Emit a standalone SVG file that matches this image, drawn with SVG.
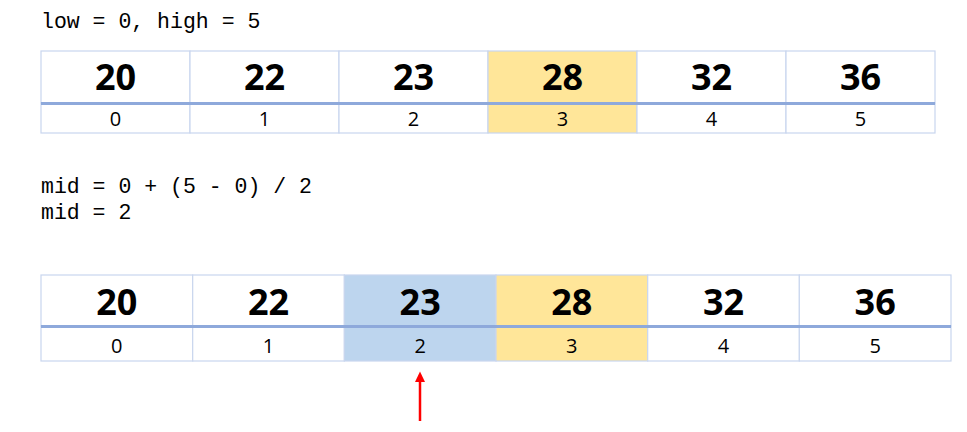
<svg xmlns="http://www.w3.org/2000/svg" width="967" height="432" viewBox="0 0 967 432">
<defs>
<style>
.code{font-family:"Liberation Mono","Courier New",monospace;font-size:21.5px;fill:#000}
.cell{fill:#ffffff;stroke:#C9D6EE;stroke-width:1.2}
.y{fill:#FFE699}
.b{fill:#BDD5EE}
.num{font-family:"Open Sans","Noto Sans",sans-serif;font-weight:700;font-size:36px;text-anchor:middle;fill:#000}
.idx{font-family:"Open Sans","Noto Sans",sans-serif;font-size:20px;text-anchor:middle;fill:#000}
.div{stroke:#8EA9DB;stroke-width:3}
</style>
</defs>
<rect width="967" height="432" fill="#ffffff"/>
<text class="code" x="41" y="28" xml:space="preserve">low = 0, high = 5</text>
<text class="code" x="41" y="193" xml:space="preserve">mid = 0 + (5 - 0) / 2</text>
<text class="code" x="41" y="219" xml:space="preserve">mid = 2</text>

<g id="array1">
<g id="a1-0"><rect class="cell" x="41" y="51" width="149" height="52"/><rect class="cell" x="41" y="103" width="149" height="30"/><text class="num" x="115.5" y="89.5">20</text><text class="idx" x="115.5" y="126">0</text></g>
<g id="a1-1"><rect class="cell" x="190" y="51" width="149" height="52"/><rect class="cell" x="190" y="103" width="149" height="30"/><text class="num" x="264.5" y="89.5">22</text><text class="idx" x="264.5" y="126">1</text></g>
<g id="a1-2"><rect class="cell" x="339" y="51" width="149" height="52"/><rect class="cell" x="339" y="103" width="149" height="30"/><text class="num" x="413.5" y="89.5">23</text><text class="idx" x="413.5" y="126">2</text></g>
<g id="a1-3"><rect class="cell y" x="488" y="51" width="149" height="52"/><rect class="cell y" x="488" y="103" width="149" height="30"/><text class="num" x="562.5" y="89.5">28</text><text class="idx" x="562.5" y="126">3</text></g>
<g id="a1-4"><rect class="cell" x="637" y="51" width="149" height="52"/><rect class="cell" x="637" y="103" width="149" height="30"/><text class="num" x="711.5" y="89.5">32</text><text class="idx" x="711.5" y="126">4</text></g>
<g id="a1-5"><rect class="cell" x="786" y="51" width="149" height="52"/><rect class="cell" x="786" y="103" width="149" height="30"/><text class="num" x="860.5" y="89.5">36</text><text class="idx" x="860.5" y="126">5</text></g>
<line class="div" x1="41" y1="103.5" x2="935" y2="103.5"/>
</g>

<g id="array2">
<g id="a2-0"><rect class="cell" x="41" y="275" width="151.7" height="51"/><rect class="cell" x="41" y="326" width="151.7" height="35"/><text class="num" x="116.8" y="314.5">20</text><text class="idx" x="116.8" y="352.5">0</text></g>
<g id="a2-1"><rect class="cell" x="192.7" y="275" width="151.7" height="51"/><rect class="cell" x="192.7" y="326" width="151.7" height="35"/><text class="num" x="268.5" y="314.5">22</text><text class="idx" x="268.5" y="352.5">1</text></g>
<g id="a2-2"><rect class="cell b" x="344.3" y="275" width="151.7" height="51"/><rect class="cell b" x="344.3" y="326" width="151.7" height="35"/><text class="num" x="420.2" y="314.5">23</text><text class="idx" x="420.2" y="352.5">2</text></g>
<g id="a2-3"><rect class="cell y" x="496" y="275" width="151.7" height="51"/><rect class="cell y" x="496" y="326" width="151.7" height="35"/><text class="num" x="571.8" y="314.5">28</text><text class="idx" x="571.8" y="352.5">3</text></g>
<g id="a2-4"><rect class="cell" x="647.7" y="275" width="151.7" height="51"/><rect class="cell" x="647.7" y="326" width="151.7" height="35"/><text class="num" x="723.5" y="314.5">32</text><text class="idx" x="723.5" y="352.5">4</text></g>
<g id="a2-5"><rect class="cell" x="799.3" y="275" width="151.7" height="51"/><rect class="cell" x="799.3" y="326" width="151.7" height="35"/><text class="num" x="875.2" y="314.5">36</text><text class="idx" x="875.2" y="352.5">5</text></g>
<line class="div" x1="41" y1="326.5" x2="951" y2="326.5"/>
</g>

<g id="connectors">
<line x1="420" y1="421" x2="420" y2="381" stroke="#FF0000" stroke-width="2.5"/>
<polygon points="420,371.5 425,382 415,382" fill="#FF0000"/>
</g>
</svg>
